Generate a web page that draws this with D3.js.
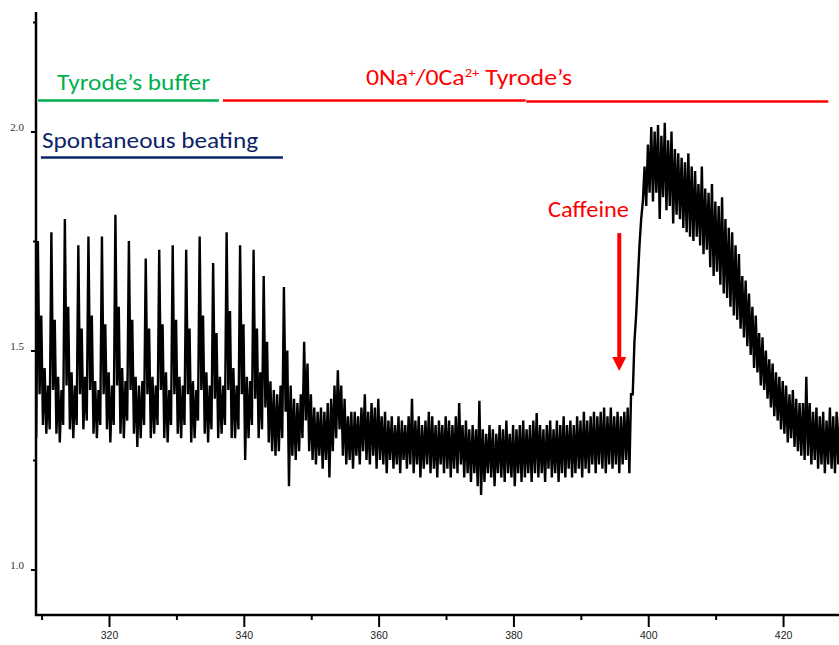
<!DOCTYPE html>
<html>
<head>
<meta charset="utf-8">
<script src="https://cdn.jsdelivr.net/npm/d3@7"></script>
<style>
  html, body { margin: 0; padding: 0; background: #fff; }
  svg { display: block; }
</style>
</head>
<body>
<div id="chart"></div>
<script>
const traceStart = 309.2;   // s, first bin
const traceStep = 0.5;      // s per bin

const traceLow = [
  1.30, 1.40, 1.33, 1.31, 1.32, 1.41, 1.31, 1.29, 1.33, 1.42,
  1.32, 1.30, 1.33, 1.40, 1.32, 1.34, 1.41, 1.31, 1.30, 1.33,
  1.40, 1.32, 1.29, 1.33, 1.42, 1.31, 1.30, 1.34, 1.41, 1.31,
  1.28, 1.30, 1.33, 1.40, 1.30, 1.31, 1.33, 1.41, 1.30, 1.29,
  1.33, 1.40, 1.31, 1.30, 1.33, 1.40, 1.29, 1.30, 1.34, 1.41,
  1.31, 1.29, 1.32, 1.39, 1.30, 1.31, 1.33, 1.41, 1.30, 1.30,
  1.32, 1.40, 1.25, 1.30, 1.33, 1.39, 1.30, 1.32, 1.37, 1.29,
  1.27, 1.26, 1.27, 1.30, 1.36, 1.19, 1.26, 1.25, 1.27, 1.30,
  1.34, 1.27, 1.25, 1.24, 1.26, 1.23, 1.25, 1.21, 1.27, 1.30,
  1.32, 1.26, 1.24, 1.25, 1.23, 1.26, 1.24, 1.27, 1.25, 1.24,
  1.26, 1.23, 1.25, 1.24, 1.22, 1.25, 1.23, 1.24, 1.22, 1.25,
  1.23, 1.24, 1.22, 1.24, 1.21, 1.23, 1.24, 1.22, 1.23, 1.21,
  1.24, 1.22, 1.23, 1.21, 1.23, 1.22, 1.24, 1.21, 1.22, 1.20,
  1.22, 1.19, 1.17, 1.20, 1.22, 1.21, 1.19, 1.22, 1.21, 1.20,
  1.22, 1.21, 1.19, 1.22, 1.20, 1.21, 1.22, 1.20, 1.22, 1.21,
  1.22, 1.20, 1.23, 1.21, 1.22, 1.20, 1.22, 1.21, 1.23, 1.21,
  1.22, 1.23, 1.21, 1.23, 1.22, 1.24, 1.22, 1.24, 1.23, 1.22,
  1.24, 1.23, 1.24, 1.22, 1.24, 1.25, 1.22, 1.40, 1.58, 1.74,
  1.84, 1.83, 1.86, 1.84, 1.86, 1.80, 1.85, 1.82, 1.83, 1.79,
  1.81, 1.80, 1.78, 1.77, 1.76, 1.75, 1.76, 1.74, 1.72, 1.73,
  1.69, 1.67, 1.68, 1.65, 1.63, 1.62, 1.60, 1.58, 1.57, 1.55,
  1.53, 1.51, 1.49, 1.46, 1.45, 1.42, 1.41, 1.39, 1.37, 1.35,
  1.34, 1.32, 1.31, 1.29, 1.30, 1.28, 1.27, 1.26, 1.25, 1.26,
  1.24, 1.25, 1.23, 1.24, 1.22, 1.24, 1.23, 1.22, 1.24
];

const traceHigh = [
  1.75, 1.58, 1.46, 1.42, 1.77, 1.57, 1.44, 1.41, 1.80, 1.60,
  1.45, 1.42, 1.74, 1.55, 1.44, 1.76, 1.58, 1.43, 1.41, 1.76,
  1.56, 1.45, 1.42, 1.81, 1.60, 1.46, 1.43, 1.75, 1.57, 1.44,
  1.42, 1.43, 1.71, 1.55, 1.44, 1.42, 1.73, 1.56, 1.45, 1.41,
  1.74, 1.57, 1.44, 1.42, 1.73, 1.55, 1.43, 1.41, 1.76, 1.58,
  1.45, 1.42, 1.70, 1.54, 1.44, 1.42, 1.77, 1.59, 1.46, 1.42,
  1.74, 1.56, 1.44, 1.43, 1.73, 1.55, 1.45, 1.67, 1.52, 1.43,
  1.41, 1.40, 1.42, 1.645, 1.50, 1.42, 1.39, 1.38, 1.40, 1.52,
  1.47, 1.40, 1.37, 1.36, 1.37, 1.36, 1.38, 1.39, 1.42, 1.455,
  1.42, 1.39, 1.35, 1.36, 1.36, 1.35, 1.37, 1.40, 1.36, 1.38,
  1.37, 1.39, 1.35, 1.36, 1.34, 1.35, 1.33, 1.35, 1.34, 1.33,
  1.35, 1.39, 1.34, 1.35, 1.33, 1.34, 1.36, 1.35, 1.33, 1.34,
  1.33, 1.35, 1.34, 1.33, 1.35, 1.38, 1.33, 1.34, 1.32, 1.33,
  1.32, 1.385, 1.32, 1.31, 1.33, 1.32, 1.31, 1.33, 1.32, 1.34,
  1.31, 1.33, 1.32, 1.33, 1.34, 1.32, 1.33, 1.34, 1.357, 1.33,
  1.32, 1.33, 1.34, 1.32, 1.34, 1.33, 1.35, 1.33, 1.34, 1.33,
  1.35, 1.34, 1.36, 1.34, 1.35, 1.36, 1.35, 1.36, 1.37, 1.35,
  1.37, 1.35, 1.36, 1.35, 1.36, 1.37, 1.40, 1.52, 1.66, 1.80,
  1.92, 1.97, 2.01, 2.00, 2.015, 1.99, 2.02, 1.98, 2.00, 1.96,
  1.95, 1.94, 1.93, 1.95, 1.92, 1.91, 1.88, 1.92, 1.87, 1.86,
  1.88, 1.84, 1.83, 1.85, 1.80, 1.78, 1.77, 1.74, 1.72, 1.67,
  1.66, 1.63, 1.60, 1.58, 1.54, 1.53, 1.50, 1.48, 1.47, 1.45,
  1.44, 1.43, 1.42, 1.40, 1.41, 1.39, 1.38, 1.38, 1.44, 1.38,
  1.36, 1.37, 1.35, 1.36, 1.34, 1.37, 1.35, 1.36, 1.35
];

// Axis ticks
const xTicks = [320, 340, 360, 380, 400, 420];
const xMinorTicks = [310, 330, 350, 370, 390, 410];
const yTicks = [1.0, 1.5, 2.0];
const yMinorTicks = [1.25, 1.75, 2.25];

// Annotation spans (seconds) and labels
const bufferSpan = [309.47, 336.3];
const zeroNaSpans = [[336.9, 381.8], [381.9, 426.7]];
const beatingSpan = [309.9, 345.8];
const caffeineTime = 395.7;
const caffeineArrow = [1.768, 1.453];

document.addEventListener('DOMContentLoaded', () => {
    drawTrace();
});

function drawTrace() {
    const width = 839;
    const height = 645;

    const svg = d3.select('#chart')
        .append('svg')
        .attr('width', width)
        .attr('height', height);

    // Scales (axis line at x=36, y=615)
    const x = d3.scaleLinear().domain([309.17, 428.3]).range([36, 839]);
    const y = d3.scaleLinear().domain([1.0, 2.0]).range([569.5, 131.5]);

    // Trace: zigzag through the min/max of each bin
    const points = [];
    traceLow.forEach((lo, i) => {
        const t = traceStart + i * traceStep;
        points.push([t, lo]);
        points.push([t + traceStep / 2, traceHigh[i]]);
    });

    const line = d3.line()
        .x(d => x(d[0]))
        .y(d => y(d[1]));

    svg.append('path')
        .datum(points)
        .attr('d', line)
        .attr('fill', 'none')
        .attr('stroke', '#000')
        .attr('stroke-width', 2.4)
        .attr('stroke-linejoin', 'miter')
        .attr('stroke-miterlimit', 2);

    // X axis
    const xAxis = svg.append('g')
        .attr('transform', 'translate(0,615)')
        .call(d3.axisBottom(x).tickValues(xTicks).tickSize(12).tickSizeOuter(0).tickPadding(5));
    xAxis.select('.domain').remove();
    xAxis.selectAll('line').attr('stroke', '#000').attr('stroke-width', 2);
    xAxis.selectAll('text')
        .attr('fill', '#222')
        .style('font-family', "'Liberation Sans', Arial, sans-serif")
        .style('font-size', '10.5px');

    svg.append('g')
        .attr('transform', 'translate(0,615)')
        .call(d3.axisBottom(x).tickValues(xMinorTicks).tickSize(5).tickSizeOuter(0).tickFormat(''))
        .call(g => g.select('.domain').remove())
        .selectAll('line').attr('stroke', '#000').attr('stroke-width', 2);

    // Y axis
    const yAxis = svg.append('g')
        .attr('transform', 'translate(36,0)')
        .call(d3.axisLeft(y).tickValues(yTicks).tickSize(5).tickSizeOuter(0).tickPadding(7).tickFormat(d3.format('.1f')));
    yAxis.select('.domain').remove();
    yAxis.selectAll('line').attr('stroke', '#000').attr('stroke-width', 2);
    yAxis.selectAll('text')
        .attr('y', -5)
        .attr('fill', '#333')
        .style('font-family', "'Liberation Serif', 'Times New Roman', serif")
        .style('font-size', '11px');

    svg.append('g')
        .attr('transform', 'translate(36,0)')
        .call(d3.axisLeft(y).tickValues(yMinorTicks).tickSize(3).tickSizeOuter(0).tickFormat(''))
        .call(g => g.select('.domain').remove())
        .selectAll('line').attr('stroke', '#000').attr('stroke-width', 2);

    // Axis lines
    svg.append('line')
        .attr('x1', 36).attr('x2', 36).attr('y1', 12).attr('y2', 616)
        .attr('stroke', '#000').attr('stroke-width', 2.5);
    svg.append('line')
        .attr('x1', 35).attr('x2', 839).attr('y1', 615).attr('y2', 615)
        .attr('stroke', '#000').attr('stroke-width', 2.5);

    // Annotations
    const font = "Carlito, Calibri, Lato, 'Open Sans', sans-serif";
    const green = '#00b050';
    const red = '#ff0000';
    const navy = '#0c2466';

    svg.append('line')
        .attr('x1', x(bufferSpan[0])).attr('x2', x(bufferSpan[1]))
        .attr('y1', 100.5).attr('y2', 100.5)
        .attr('stroke', green).attr('stroke-width', 2.5);

    zeroNaSpans.forEach((s, i) => {
        svg.append('line')
            .attr('x1', x(s[0])).attr('x2', x(s[1]))
            .attr('y1', 100.5 + i).attr('y2', 100.5 + i)
            .attr('stroke', red).attr('stroke-width', 2.5);
    });

    svg.append('line')
        .attr('x1', x(beatingSpan[0])).attr('x2', x(beatingSpan[1]))
        .attr('y1', 157.5).attr('y2', 157.5)
        .attr('stroke', navy).attr('stroke-width', 2.5);

    svg.append('text')
        .attr('x', 57).attr('y', 89.5)
        .attr('textLength', 153).attr('lengthAdjust', 'spacingAndGlyphs')
        .attr('fill', green)
        .style('font-family', font).style('font-size', '22px')
        .text('Tyrode\u2019s buffer');

    svg.append('text')
        .attr('x', 42).attr('y', 148)
        .attr('textLength', 216).attr('lengthAdjust', 'spacingAndGlyphs')
        .attr('fill', navy)
        .style('font-family', font).style('font-size', '22px')
        .text('Spontaneous beating');

    const zeroNa = svg.append('text')
        .attr('x', 366).attr('y', 85)
        .attr('textLength', 206).attr('lengthAdjust', 'spacingAndGlyphs')
        .attr('fill', red)
        .style('font-family', font).style('font-size', '23px');
    zeroNa.append('tspan').text('0Na');
    zeroNa.append('tspan').attr('dy', -8).style('font-size', '13px').text('+');
    zeroNa.append('tspan').attr('dy', 8).text('/0Ca');
    zeroNa.append('tspan').attr('dy', -8).style('font-size', '13px').text('2+');
    zeroNa.append('tspan').attr('dy', 8).text(' Tyrode\u2019s');

    svg.append('text')
        .attr('x', 548).attr('y', 217)
        .attr('textLength', 81).attr('lengthAdjust', 'spacingAndGlyphs')
        .attr('fill', red)
        .style('font-family', font).style('font-size', '22px')
        .text('Caffeine');

    // Caffeine arrow
    const ax = x(caffeineTime);
    const yTop = y(caffeineArrow[0]);
    const yTip = y(caffeineArrow[1]);
    svg.append('line')
        .attr('x1', ax).attr('x2', ax)
        .attr('y1', yTop).attr('y2', yTip - 12)
        .attr('stroke', red).attr('stroke-width', 4);
    svg.append('path')
        .attr('d', `M${ax - 7},${yTip - 14}L${ax + 7},${yTip - 14}L${ax},${yTip}Z`)
        .attr('fill', red);
}
</script>
</body>
</html>
